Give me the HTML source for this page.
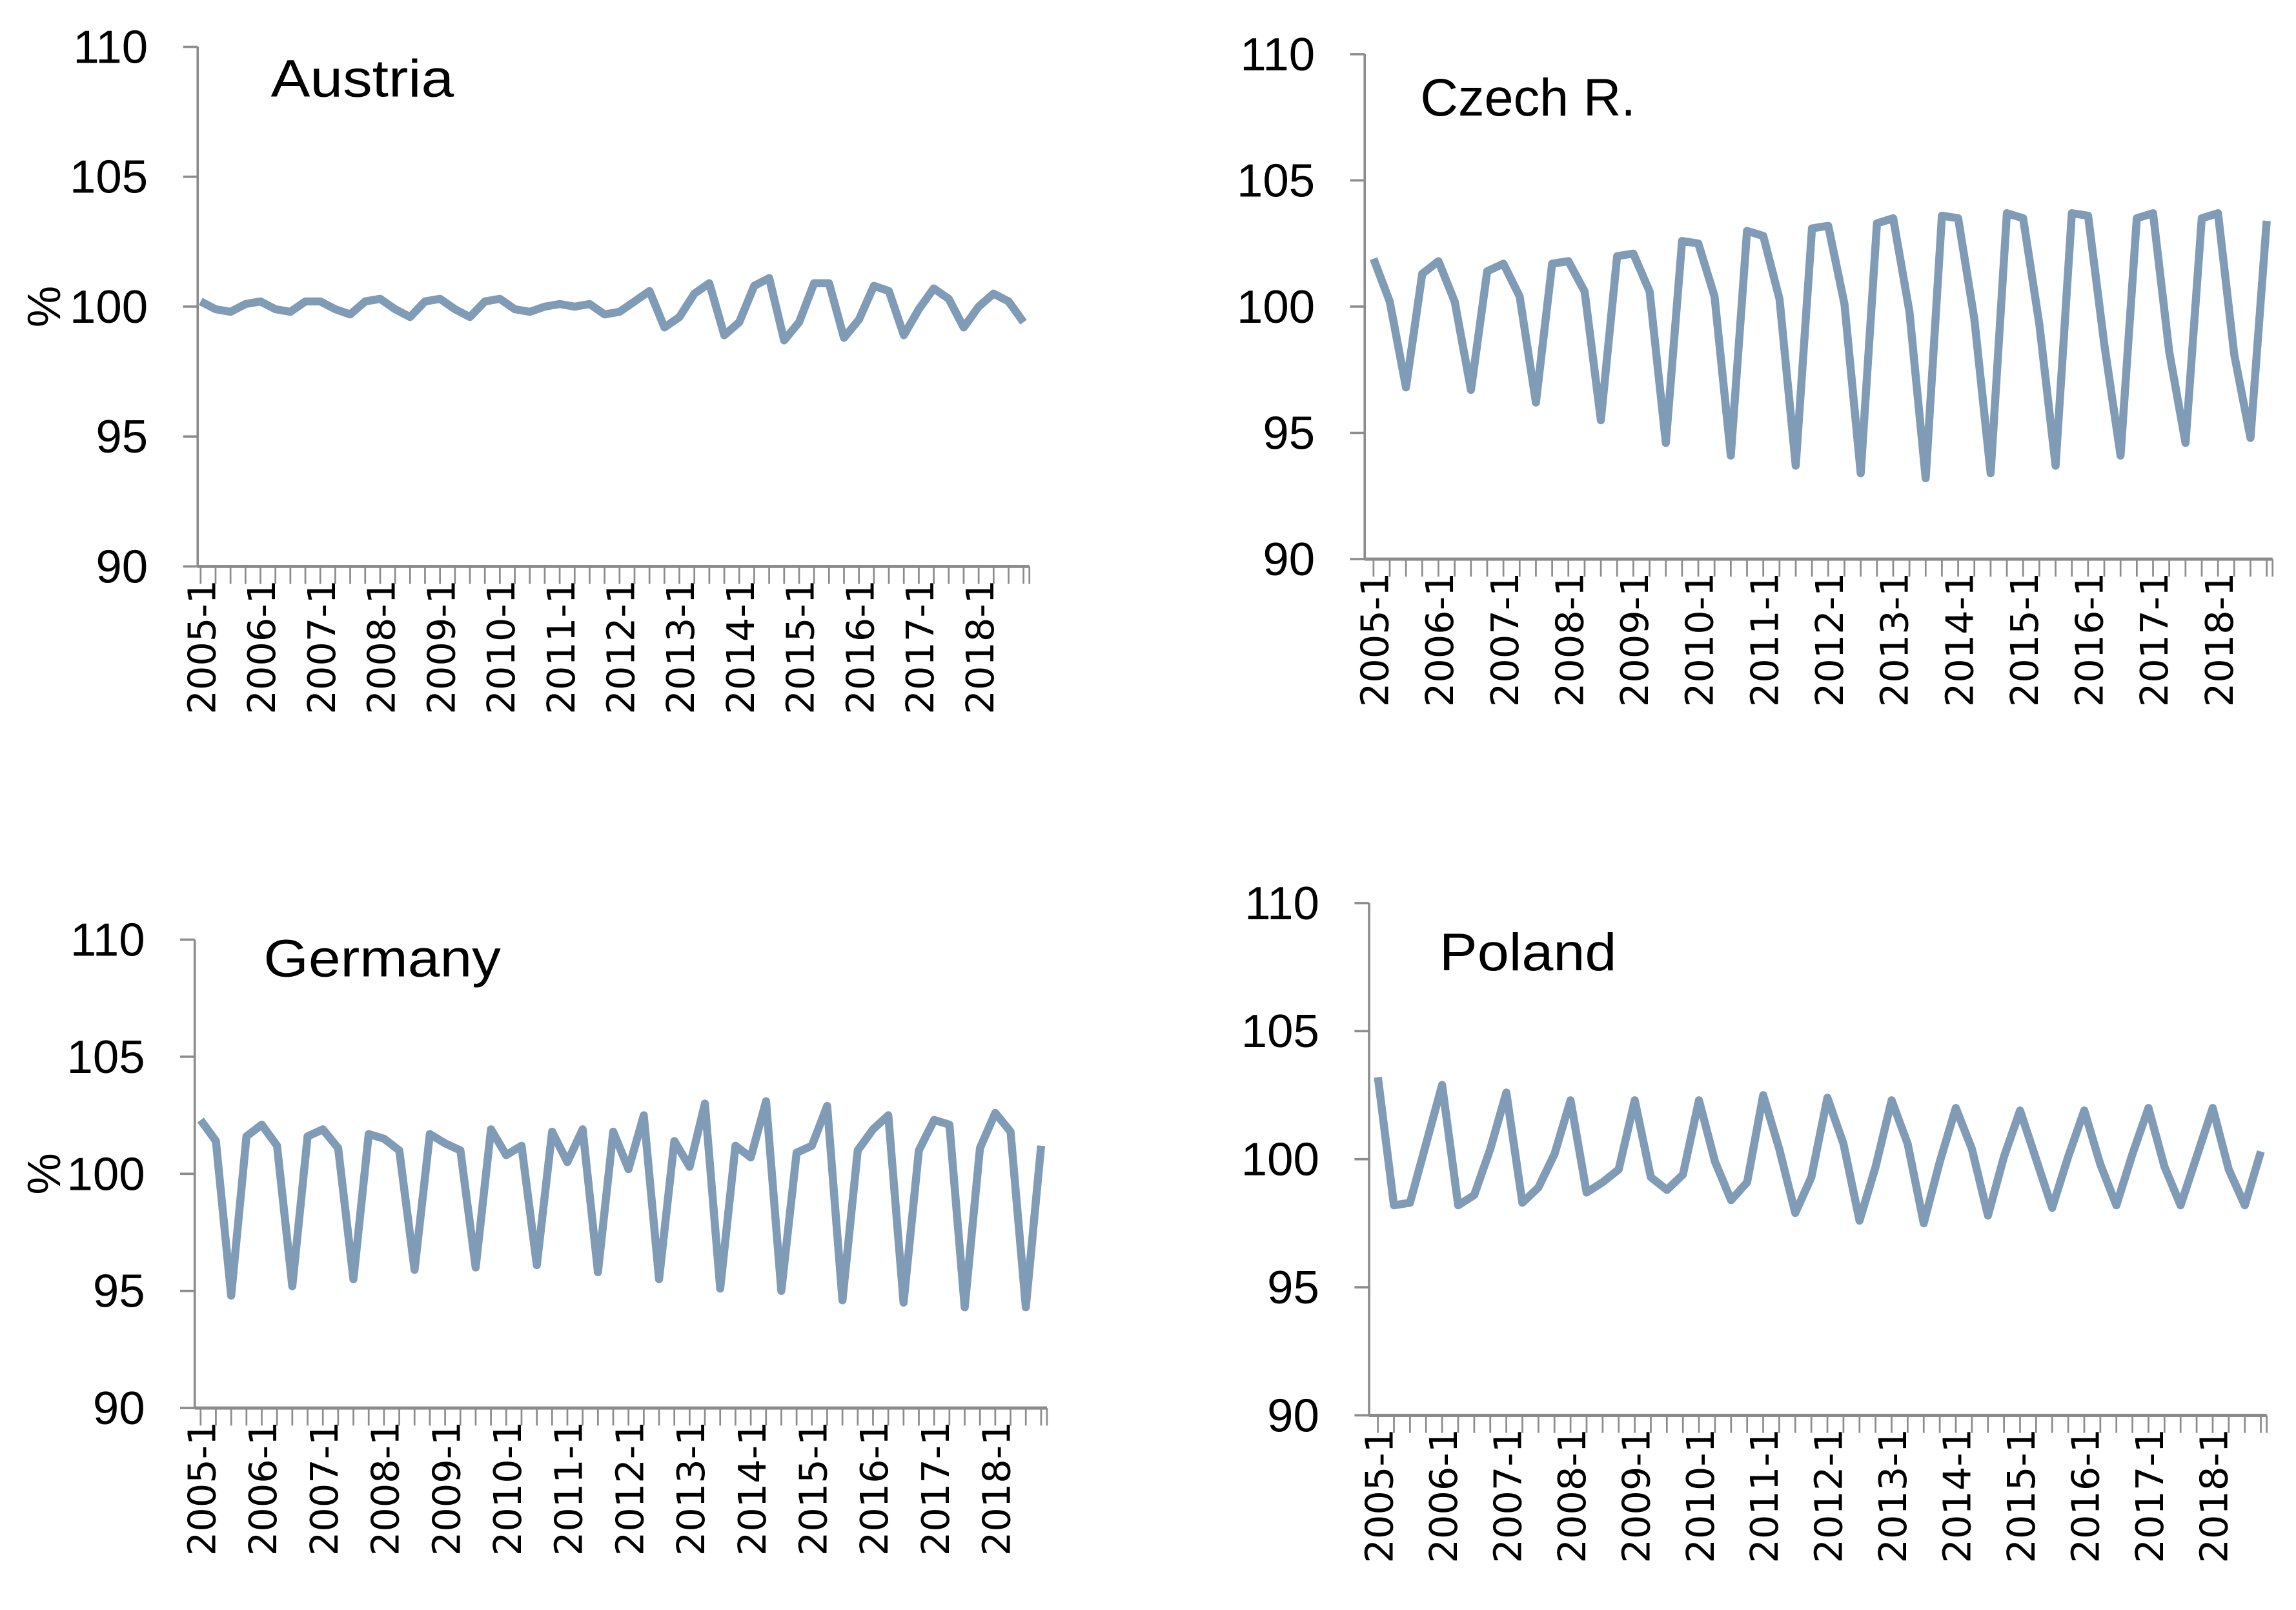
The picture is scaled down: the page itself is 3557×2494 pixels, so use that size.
<!DOCTYPE html>
<html><head><meta charset="utf-8"><style>
html,body{margin:0;padding:0;background:#fff;}
svg{display:block;}
</style></head><body>
<svg id="chart" width="3557" height="2494" viewBox="0 0 1568 1100" preserveAspectRatio="none" xmlns="http://www.w3.org/2000/svg"></svg>
<script>
const quarters = [];
for (let y = 2005; y <= 2018; y++) for (let q = 1; q <= 4; q++) quarters.push(y + '-' + q);
const yTicks = [90, 95, 100, 105, 110];
const austriaValues = [100.2,99.9,99.8,100.1, 100.2,99.9,99.8,100.2, 100.2,99.9,99.7,100.2, 100.3,99.9,99.6,100.2, 100.3,99.9,99.6,100.2, 100.3,99.9,99.8,100.0, 100.1,100.0,100.1,99.7, 99.8,100.2,100.6,99.2, 99.6,100.5,100.9,98.9, 99.4,100.8,101.1,98.7, 99.4,100.9,100.9,98.8, 99.5,100.8,100.6,98.9, 99.9,100.7,100.3,99.2, 100.0,100.5,100.2,99.4];
const czechValues = [101.9,100.2,96.8, 101.3,101.8,100.2,96.7, 101.4,101.7,100.4,96.2, 101.7,101.8,100.6,95.5, 102.0,102.1,100.6,94.6, 102.6,102.5,100.4,94.1, 103.0,102.8,100.3,93.7, 103.1,103.2,100.1,93.4, 103.3,103.5,99.8,93.2, 103.6,103.5,99.5,93.4, 103.7,103.5,99.3,93.7, 103.7,103.6,98.5,94.1, 103.5,103.7,98.2,94.6, 103.5,103.7,98.1,94.8, 103.4];
const germanyValues = [102.3,101.4,94.8, 101.6,102.1,101.2,95.2, 101.6,101.9,101.1,95.5, 101.7,101.5,101.0,95.9, 101.7,101.3,101.0,96.0, 101.9,100.8,101.2,96.1, 101.8,100.5,101.9,95.8, 101.8,100.2,102.5,95.5, 101.4,100.3,103.0,95.1, 101.2,100.7,103.1,95.0, 100.9,101.2,102.9,94.6, 101.0,101.9,102.5,94.5, 101.0,102.3,102.1,94.3, 101.1,102.6,101.8,94.3, 101.2];
const polandValues = [103.2,98.2,98.3,100.6, 102.9,98.2,98.6,100.4, 102.6,98.3,98.9,100.2, 102.3,98.7,99.1,99.6, 102.3,99.3,98.8,99.4, 102.3,99.9,98.4,99.1, 102.5,100.4,97.9,99.3, 102.4,100.6,97.6,99.7, 102.3,100.6,97.5,99.9, 102.0,100.4,97.8,100.1, 101.9,100.0,98.1,100.1, 101.9,99.8,98.2,100.2, 102.0,99.7,98.2,100.1, 102.0,99.6,98.2,100.3];

const NS = 'http://www.w3.org/2000/svg';
const svg = document.getElementById('chart');
function mk(tag, attrs, parent) {
  const e = document.createElementNS(NS, tag);
  for (const k in attrs) e.setAttribute(k, attrs[k]);
  parent.appendChild(e);
  return e;
}
const panels = [
  {key:'austria', title:'Austria', values:austriaValues, ax:135, x0:137, x1:699, axEnd:703, yT:32, yB:387, tx:185, ty:66, pct:true},
  {key:'czech', title:'Czech R.', values:czechValues, ax:932, x0:938, x1:1548, axEnd:1552, yT:37, yB:382, tx:970, ty:79, pct:false},
  {key:'germany', title:'Germany', values:germanyValues, ax:133, x0:137, x1:711, axEnd:715, yT:642, yB:962, tx:180, ty:667, pct:true},
  {key:'poland', title:'Poland', values:polandValues, ax:935, x0:941, x1:1544, axEnd:1548, yT:617, yB:967, tx:983, ty:663, pct:false}
];
const titleLen = {austria:125, czech:147, germany:162, poland:121};
panels.forEach(p => {
  const g = mk('g', {}, svg);
  
  
  const n = quarters.length;
  const xs = i => p.x0 + (p.x1 - p.x0) * i / (n - 1);
  const ys = v => p.yB - (v - 90) / 20 * (p.yB - p.yT);
  const yl = mk('line', {x1:p.ax, y1:p.yT, x2:p.ax, y2:p.yB, stroke:'#8c8c8c', 'stroke-width':1.6}, g);
  
  
  yTicks.forEach(t => {
    const y = ys(t);
    mk('line', {x1:p.ax - 10, y1:y, x2:p.ax, y2:y, stroke:'#8c8c8c', 'stroke-width':1.6}, g);
    const tl = mk('text', {x:p.ax - 34, y:y + 11, 'text-anchor':'end', 'font-size':32, 'font-family':'"Liberation Sans",sans-serif', fill:'#000'}, g);
    tl.textContent = t;
    
    
  });
  const xl = mk('line', {x1:p.ax, y1:p.yB, x2:p.axEnd, y2:p.yB, stroke:'#8c8c8c', 'stroke-width':2.2}, g);
  
  
  quarters.forEach((q, i) => {
    const x = xs(i);
    mk('line', {x1:x, y1:p.yB, x2:x, y2:p.yB + 12, stroke:'#8c8c8c', 'stroke-width':1.2}, g);
    if (i % 4 === 0) {
      const lbl = mk('text', {x:0, y:0, 'text-anchor':'end', 'font-size':26, 'font-family':'"DejaVu Sans",sans-serif', fill:'#000', transform:'translate(' + (x + 10) + ',' + (p.yB + 9) + ') rotate(-90)'}, g);
      lbl.textContent = q;
      
      
    }
  });
  mk('line', {x1:p.axEnd, y1:p.yB, x2:p.axEnd, y2:p.yB + 12, stroke:'#8c8c8c', 'stroke-width':1.2}, g);
  const pts = p.values.map((v, i) => xs(i).toFixed(2) + ',' + ys(v).toFixed(2)).join(' ');
  const line = mk('polyline', {points:pts, fill:'none', stroke:'#7f9bb6', 'stroke-width':5.5, 'stroke-linejoin':'round'}, g);
  
  
  const tt = mk('text', {x:p.tx, y:p.ty, 'font-size':36, 'font-family':'"Liberation Sans",sans-serif', fill:'#000', textLength:titleLen[p.key], lengthAdjust:'spacingAndGlyphs'}, g);
  tt.textContent = p.title;
  
  
  if (p.pct) {
    const py = ys(100);
    const pc = mk('text', {x:0, y:0, 'text-anchor':'middle', 'font-size':32, 'font-family':'"Liberation Sans",sans-serif', fill:'#000', transform:'translate(41,' + py + ') rotate(-90)'}, g);
    pc.textContent = '%';
    
    
  }
});
</script>
</body></html>
